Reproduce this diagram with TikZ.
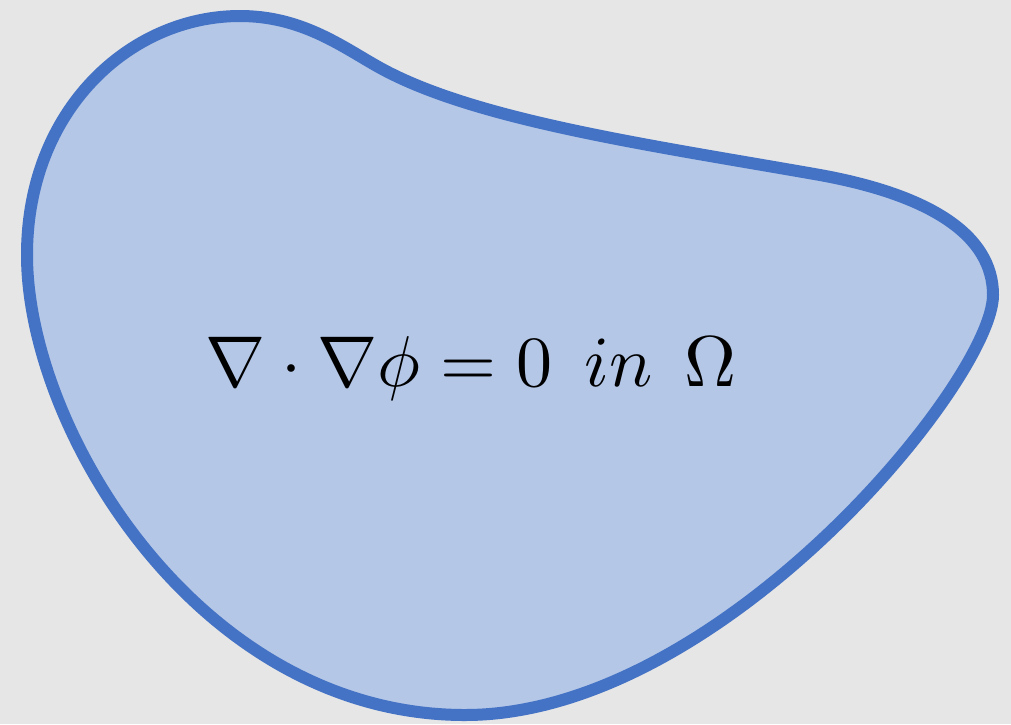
\documentclass[tikz,border=0pt]{standalone}
\definecolor{bggray}{HTML}{E6E6E6}
\definecolor{blobfill}{HTML}{B4C7E7}
\definecolor{blobline}{HTML}{4472C4}
\begin{document}
\begin{tikzpicture}[x=1pt,y=-1pt,
  blob/.style={fill=blobfill,draw=blobline,line width=12pt,line join=round},
  eqtext/.style={scale=7.2,inner sep=0pt}]
\fill[bggray] (0,0) rectangle (1011,724);
\useasboundingbox (0,0) rectangle (1011,724);
\draw[blob] (240,16) .. controls (300,16) and (340,45) .. (375,65)
  .. controls (470,120) and (650,145) .. (820,175)
  .. controls (930,195) and (993,235) .. (993,295)
  .. controls (993,380) and (720,715) .. (465,715)
  .. controls (200,715) and (27,430) .. (27,255)
  .. controls (27,110) and (130,16) .. (240,16) -- cycle;
\node[eqtext] (eq) at (471,368) {$\nabla\cdot\nabla\phi = 0\;\, in\;\, \Omega$};
\end{tikzpicture}
\end{document}
